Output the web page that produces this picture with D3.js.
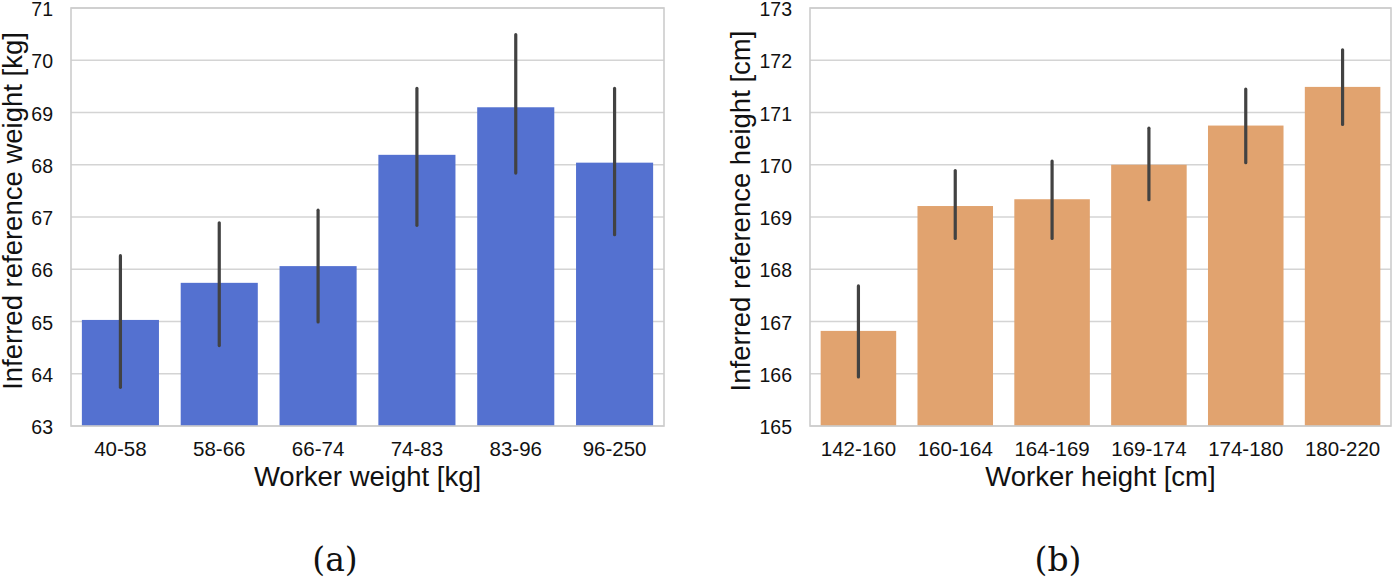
<!DOCTYPE html>
<html>
<head>
<meta charset="utf-8">
<script src="https://cdn.jsdelivr.net/npm/d3@7"></script>
<style>
  body { margin: 0; background: #fff; }
  text { font-family: "Liberation Sans", Arial, sans-serif; fill: #111; }
  .caption { font-family: "DejaVu Serif", "Liberation Serif", serif; }
</style>
</head>
<body>
<script>
// (a) weight bins
const weightBins = ["40-58", "58-66", "66-74", "74-83", "83-96", "96-250"];
const weightMeans = [65.03, 65.74, 66.06, 68.19, 69.10, 68.04];
const weightCiLow = [63.74, 64.54, 64.99, 66.84, 67.84, 66.66];
const weightCiHigh = [66.26, 66.89, 67.13, 69.46, 70.49, 69.46];
const weightTicks = [63, 64, 65, 66, 67, 68, 69, 70, 71];

// (b) height bins
const heightBins = ["142-160", "160-164", "164-169", "169-174", "174-180", "180-220"];
const heightMeans = [166.82, 169.21, 169.34, 170.00, 170.75, 171.49];
const heightCiLow = [165.94, 168.59, 168.59, 169.33, 170.04, 170.77];
const heightCiHigh = [167.68, 169.89, 170.07, 170.70, 171.45, 172.20];
const heightTicks = [165, 166, 167, 168, 169, 170, 171, 172, 173];

const width = 1393;
const height = 580;
const plotTop = 8, plotBottom = 426;

const svg = d3.select('body')
  .append('svg')
    .attr('width', width)
    .attr('height', height);

function drawPanel(p) {
  const g = svg.append('g');

  const x = d3.scaleBand()
    .domain(p.bins)
    .range([p.left, p.right])
    .paddingInner(0.22)
    .paddingOuter(0.11);

  const y = d3.scaleLinear()
    .domain([p.ticks[0], p.ticks[p.ticks.length - 1]])
    .range([plotBottom, plotTop]);

  // grid
  g.selectAll('.grid')
    .data(p.ticks)
    .join('line')
      .attr('x1', p.left)
      .attr('x2', p.right)
      .attr('y1', d => y(d))
      .attr('y2', d => y(d))
      .attr('stroke', '#d4d4d4')
      .attr('stroke-width', 1.5);

  const rows = p.bins.map((b, i) => ({ bin: b, mean: p.means[i], lo: p.lo[i], hi: p.hi[i] }));

  g.selectAll('.bar')
    .data(rows)
    .join('rect')
      .attr('x', d => x(d.bin))
      .attr('width', x.bandwidth())
      .attr('y', d => y(d.mean))
      .attr('height', d => y.range()[0] - y(d.mean))
      .attr('fill', p.color);

  g.selectAll('.err')
    .data(rows)
    .join('line')
      .attr('x1', d => x(d.bin) + x.bandwidth() / 2)
      .attr('x2', d => x(d.bin) + x.bandwidth() / 2)
      .attr('y1', d => y(d.lo))
      .attr('y2', d => y(d.hi))
      .attr('stroke', '#424242')
      .attr('stroke-width', 3.2)
      .attr('stroke-linecap', 'round');

  // spines
  g.append('rect')
    .attr('x', p.left)
    .attr('y', plotTop)
    .attr('width', p.right - p.left)
    .attr('height', plotBottom - plotTop)
    .attr('fill', 'none')
    .attr('stroke', '#cccccc')
    .attr('stroke-width', 1.6);

  // y tick labels
  g.selectAll('.ytick')
    .data(p.ticks)
    .join('text')
      .attr('x', p.left - 18)
      .attr('y', d => y(d))
      .attr('dy', '0.42em')
      .attr('text-anchor', 'end')
      .attr('font-size', 19.5)
      .text(d => d);

  // x tick labels
  g.selectAll('.xtick')
    .data(p.bins)
    .join('text')
      .attr('x', d => x(d) + x.bandwidth() / 2)
      .attr('y', 456)
      .attr('text-anchor', 'middle')
      .attr('font-size', 20.5)
      .text(d => d);

  g.append('text')
    .attr('x', (p.left + p.right) / 2)
    .attr('y', 486)
    .attr('text-anchor', 'middle')
    .attr('font-size', 27.5)
    .text(p.xLabel);

  g.append('text')
    .attr('transform', `translate(${p.yLabelX},${(plotTop + plotBottom) / 2 - 6}) rotate(-90)`)
    .attr('text-anchor', 'middle')
    .attr('font-size', 27.5)
    .text(p.yLabel);

  g.append('text')
    .attr('class', 'caption')
    .attr('x', p.captionX)
    .attr('y', 571)
    .attr('text-anchor', 'middle')
    .attr('font-size', 33)
    .text(p.caption);
}

drawPanel({
  bins: weightBins, means: weightMeans, lo: weightCiLow, hi: weightCiHigh, ticks: weightTicks,
  left: 71, right: 664, color: '#5471d0',
  xLabel: 'Worker weight [kg]', yLabel: 'Inferred reference weight [kg]',
  yLabelX: 22, captionX: 335, caption: '(a)'
});

drawPanel({
  bins: heightBins, means: heightMeans, lo: heightCiLow, hi: heightCiHigh, ticks: heightTicks,
  left: 810, right: 1391, color: '#e1a36f',
  xLabel: 'Worker height [cm]', yLabel: 'Inferred reference height [cm]',
  yLabelX: 750, captionX: 1058, caption: '(b)'
});
</script>
</body>
</html>
